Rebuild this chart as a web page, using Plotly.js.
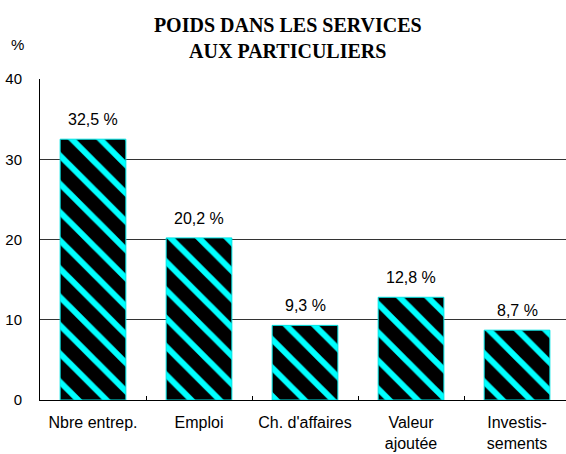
<!DOCTYPE html>
<html>
<head>
<meta charset="utf-8">
<script src="https://cdn.plot.ly/plotly-3.0.1.min.js"></script>
<style>html,body{margin:0;padding:0;background:#fff;}</style>
</head>
<body>
<div id="chart" style="width:566px;height:454px;"></div>
<script>
var categories = ["Nbre entrep.", "Emploi", "Ch. d'affaires", "Valeur<br>ajoutée", "Investis-<br>sements"];
var values = [32.5, 20.2, 9.3, 12.8, 8.7];
var valueLabels = ["32,5 %", "20,2 %", "9,3 %", "12,8 %", "8,7 %"];
var yTicks = [0, 10, 20, 30, 40];

var trace = {
  type: 'bar',
  x: categories,
  y: values,
  width: 0.62,
  marker: {
    color: '#000000',
    line: {color: '#00e5e5', width: 1},
    pattern: {shape: '\\', bgcolor: '#000000', fgcolor: '#00ffff', fgopacity: 1, size: 20, solidity: 0.3, fillmode: 'replace'}
  },
  hoverinfo: 'none'
};

var annotations = categories.map(function(c, i) {
  return {x: c, y: values[i], xref: 'x', yref: 'y', text: valueLabels[i], showarrow: false,
    yanchor: 'bottom', yshift: 9, font: {family: 'Liberation Sans, Arial, sans-serif', size: 16, color: '#000'}};
});
annotations.push({xref: 'paper', yref: 'paper', x: 0, y: 1, xanchor: 'center', yanchor: 'middle',
  xshift: -23, yshift: 35, text: '%', showarrow: false,
  font: {family: 'Liberation Sans, Arial, sans-serif', size: 15, color: '#000'}});

var layout = {
  width: 566, height: 454,
  margin: {l: 40, r: 0, t: 79, b: 54, pad: 0},
  paper_bgcolor: '#fff', plot_bgcolor: '#fff',
  showlegend: false,
  title: {
    text: '<b>POIDS DANS LES SERVICES<br>AUX PARTICULIERS</b>',
    font: {family: 'Liberation Serif, Times New Roman, serif', size: 20, color: '#000'},
    xref: 'paper', x: 0.471, xanchor: 'center',
    yref: 'container', y: 0.93, yanchor: 'top'
  },
  xaxis: {
    type: 'category',
    range: [-0.5, 4.462],
    showline: true, linecolor: '#000', linewidth: 1,
    ticks: 'inside', ticklen: 4, tickcolor: '#000', tickson: 'boundaries',
    showgrid: false, zeroline: false,
    tickfont: {family: 'Liberation Sans, Arial, sans-serif', size: 16, color: '#000'},
    ticklabelstandoff: 8
  },
  yaxis: {
    range: [0, 40],
    tickvals: yTicks,
    ticktext: yTicks.map(String),
    showline: true, linecolor: '#000', linewidth: 1,
    ticks: '', showgrid: true, gridcolor: '#333', gridwidth: 1,
    zeroline: false,
    tickfont: {family: 'Liberation Sans, Arial, sans-serif', size: 15, color: '#000'},
    ticklabelstandoff: 14
  },
  annotations: annotations
};

Plotly.newPlot('chart', [trace], layout, {displayModeBar: false, staticPlot: true});
</script>
</body>
</html>
